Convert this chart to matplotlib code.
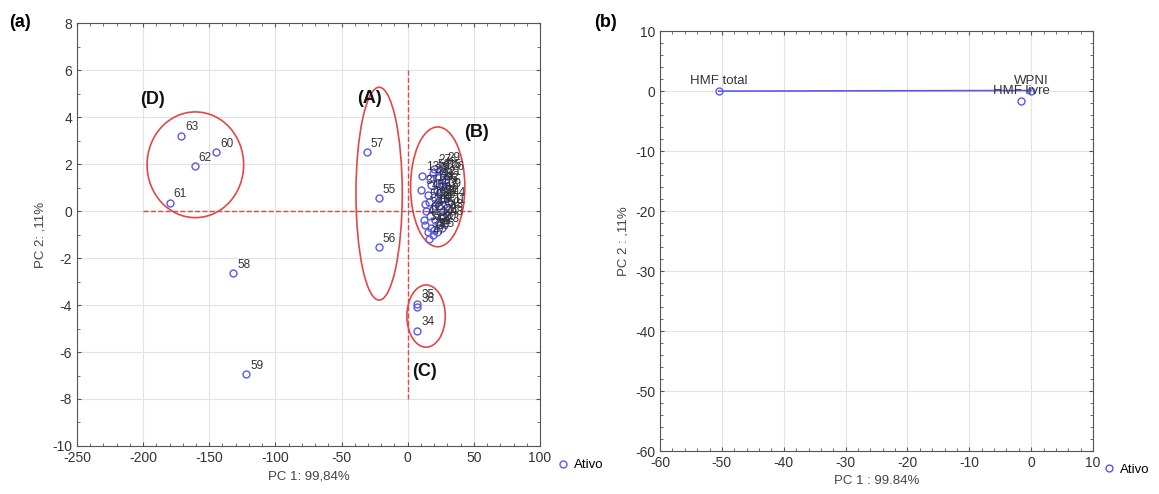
import matplotlib.pyplot as plt
from matplotlib.patches import Ellipse
from matplotlib.ticker import MultipleLocator

plt.rcParams['font.family'] = ['Liberation Sans', 'DejaVu Sans']
plt.rcParams['axes.unicode_minus'] = False

# (a) scores: outliers and small groups
out_id = ['57', '55', '56', '63', '60', '62', '61', '58', '59', '35', '36', '34']
out_x = [-31, -22, -22, -171, -145, -161, -180, -132, -122, 7, 7, 7]
out_y = [2.5, 0.55, -1.55, 3.2, 2.5, 1.9, 0.35, -2.65, -6.95, -3.95, -4.1, -5.1]

# (a) scores: main group (B)
b_id = [str(i) for i in list(range(1, 34)) + list(range(37, 55))]
b_x = [22, 25, 27, 24, 29, 30, 26, 23, 28, 20, 31, 18, 11, 21, 27, 19, 25, 29, 16, 24,
       28, 17, 26, 14, 22, 30, 20, 25, 27, 19, 13, 23, 15,
       10, 17, 28, 21, 12, 26, 18, 31, 15, 24, 16, 29, 22, 13, 20, 27, 19, 25]
b_y = [0.9, 1.2, 0.5, 0.2, 1.0, 0.7, -0.2, 1.5, 0.3, 0.6, 0.1, 1.1, 1.5, -0.4, 1.6, 0.1,
       0.8, -0.1, 0.4, -0.6, 1.3, -0.2, -0.7, 0.0, -0.9, 1.5, 1.8, -0.3, 1.9, -1.0, -0.6,
       0.4, -0.9,
       0.9, 1.4, 0.8, 0.2, -0.4, 1.1, -0.7, 0.4, 0.7, 1.7, -1.2, -0.4, 1.2, 0.3, -0.8,
       0.0, 1.6, 0.5]

# groups: ellipse centre, size and label position
grp_name = ['(D)', '(A)', '(B)', '(C)']
grp_cx = [-160.5, -21.6, 22.7, 13.9]
grp_cy = [1.97, 0.74, 1.03, -4.47]
grp_w = [73, 35, 41, 29]
grp_h = [4.5, 9.06, 5.1, 2.65]
grp_lx = [-193, -29, 52, 13]
grp_ly = [4.75, 4.8, 3.35, -6.85]

# (b) loadings
var_names = ['HMF total', 'WPNI', 'HMF livre']
var_x = [-50.5, 0.0, -1.6]
var_y = [0.0, 0.1, -1.65]

blue = '#5a5ae6'
red = '#e04848'
txt = '#333333'

fig = plt.figure(figsize=(11.59, 4.94), dpi=100)
ax1 = fig.add_axes([0.0664, 0.0972, 0.3995, 0.856])
ax2 = fig.add_axes([0.5695, 0.087, 0.3736, 0.850])

for ax in (ax1, ax2):
    ax.grid(True, color='#e3e3e3', lw=0.8)
    ax.set_axisbelow(True)
    ax.tick_params(which='both', direction='in', top=True, right=True, colors='#555555',
                   labelcolor='#333333', labelsize=10)
    ax.tick_params(which='major', length=3)
    ax.tick_params(which='minor', length=2)
    for s in ax.spines.values():
        s.set_color('#555555')

# ---- (a)
ax1.plot([-200, 48], [0, 0], '--', color=red, lw=1)
ax1.plot([0, 0], [6, -8], '--', color=red, lw=1)
for i in range(len(grp_name)):
    ax1.add_patch(Ellipse((grp_cx[i], grp_cy[i]), grp_w[i], grp_h[i], fill=False,
                          ec=red, lw=1.2))
    ax1.text(grp_lx[i], grp_ly[i], grp_name[i], fontsize=13, fontweight='bold',
             ha='center', va='center', color='#111111')

ax1.plot(out_x + b_x, out_y + b_y, 'o', mfc='none', mec=blue, ms=5, mew=1, ls='none',
         label='Ativo')
for n, x, y in zip(out_id + b_id, out_x + b_x, out_y + b_y):
    ax1.annotate(n, (x, y), xytext=(3, 4), textcoords='offset points', fontsize=8.5,
                 color=txt)

ax1.set_xlim(-250, 100)
ax1.set_ylim(-10, 8)
ax1.xaxis.set_major_locator(MultipleLocator(50))
ax1.xaxis.set_minor_locator(MultipleLocator(10))
ax1.yaxis.set_major_locator(MultipleLocator(2))
ax1.yaxis.set_minor_locator(MultipleLocator(1))
ax1.set_xlabel('PC 1: 99,84%', fontsize=9.5, color='#444444')
ax1.set_ylabel('PC 2: ,11%', fontsize=9.5, color='#444444')
ax1.legend(loc='center left', bbox_to_anchor=(1.025, -0.045), frameon=False, fontsize=9.5,
           handletextpad=0.3, borderaxespad=0, handlelength=1.0)

# ---- (b)
ax2.plot(var_x[:2], var_y[:2], '-', color=blue, lw=1.2)
ax2.plot(var_x, var_y, 'o', mfc='none', mec=blue, ms=5, mew=1, ls='none', label='Ativo')
for n, x, y in zip(var_names, var_x, var_y):
    ax2.annotate(n, (x, y), xytext=(0, 5), textcoords='offset points', fontsize=9.5,
                 ha='center', color=txt)

ax2.set_xlim(-60, 10)
ax2.set_ylim(-60, 10)
ax2.xaxis.set_major_locator(MultipleLocator(10))
ax2.xaxis.set_minor_locator(MultipleLocator(2))
ax2.yaxis.set_major_locator(MultipleLocator(10))
ax2.yaxis.set_minor_locator(MultipleLocator(2))
ax2.set_xlabel('PC 1 : 99.84%', fontsize=9.5, color='#444444')
ax2.set_ylabel('PC 2 : ,11%', fontsize=9.5, color='#444444')
ax2.legend(loc='center left', bbox_to_anchor=(1.01, -0.045), frameon=False, fontsize=9.5,
           handletextpad=0.3, borderaxespad=0, handlelength=1.0)

fig.text(0.008, 0.945, '(a)', fontsize=13, fontweight='bold')
fig.text(0.513, 0.945, '(b)', fontsize=13, fontweight='bold')

fig.savefig('out.png', dpi=100)
